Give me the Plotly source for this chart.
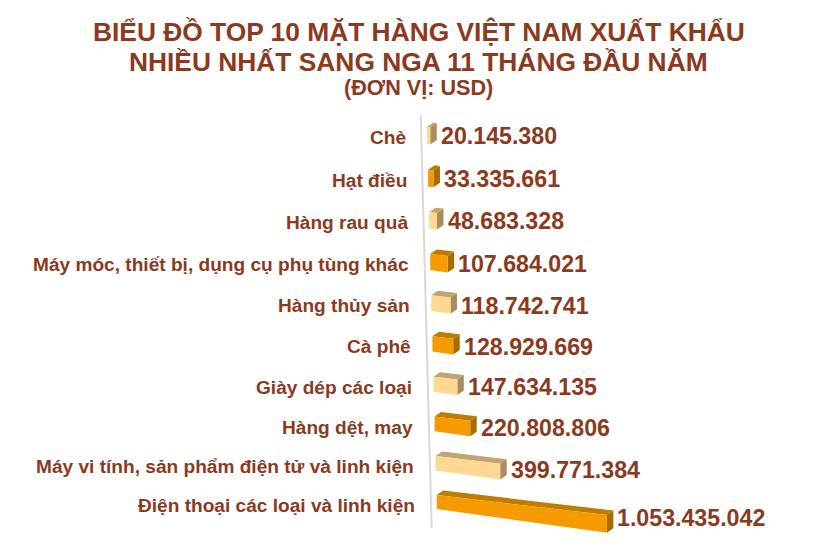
import plotly.graph_objects as go

# Data, top row first
categories = [
    "Chè",
    "Hạt điều",
    "Hàng rau quả",
    "Máy móc, thiết bị, dụng cụ phụ tùng khác",
    "Hàng thủy sản",
    "Cà phê",
    "Giày dép các loại",
    "Hàng dệt, may",
    "Máy vi tính, sản phẩm điện tử và linh kiện",
    "Điện thoại các loại và linh kiện",
]
values = [20145380, 33335661, 48683328, 107684021, 118742741,
          128929669, 147634135, 220808806, 399771384, 1053435042]
title_lines = [
    "BIỂU ĐỒ TOP 10 MẶT HÀNG VIỆT NAM XUẤT KHẨU",
    "NHIỀU NHẤT SANG NGA 11 THÁNG ĐẦU NĂM",
]
unit_label = "(ĐƠN VỊ: USD)"

W, H = 819, 559
PAGE_MARGIN = 8  # the page body pushes the figure in by this much
TEXT = "#8B3A1E"
FONT = "Liberation Sans, Arial, sans-serif"

# (front, top, side) colours, alternating by row
ORANGE = ("#F59B00", "#BF7C00", "#A66C00")
SAND = ("#FFD891", "#C4A36C", "#A98D5F")

PX_PER_USD = 0.1615e-6  # width of a bar per dollar
DEPTH_X, DEPTH_Y = 6.5, -4.5  # offset of the back of a bar


def row_y(r):
    # rows get slightly closer together towards the bottom (perspective)
    return 127 + 43.05 * r - 0.24 * r * r


def project(v, r, dx=0.0, dy=0.0, down=0.0):
    # pseudo 3D: the x axis runs downhill, the value axis leans with the row.
    # down = 0 is the top edge of the front face, 1 the bottom edge
    m = v / 1e6
    x = v + (r * 1.08 + dx) / PX_PER_USD
    thick = 17 - 0.33 * r + 0.0035 * m
    y = row_y(r) + 0.019 * m + down * thick + dy
    return x, y


def polygon(points, color):
    return go.Scatter(
        x=[p[0] for p in points] + [points[0][0]],
        y=[p[1] for p in points] + [points[0][1]],
        mode="lines",
        fill="toself",
        fillcolor=color,
        line=dict(width=0),
        hoverinfo="skip",
        showlegend=False,
    )


fig = go.Figure()

# Axis wall line
ax = [project(0, -0.28, dx=-6), project(0, 9.85, dx=-6)]
fig.add_trace(go.Scatter(
    x=[p[0] for p in ax], y=[p[1] for p in ax],
    mode="lines", line=dict(color="#D9D9D9", width=2),
    hoverinfo="skip", showlegend=False,
))

annotations = []
for r, (cat, v) in enumerate(zip(categories, values)):
    front, top, side = ORANGE if r % 2 else SAND
    if r == 9:
        front, top, side = ORANGE

    fl_t = project(0, r)
    fr_t = project(v, r)
    fr_b = project(v, r, down=1)
    fl_b = project(0, r, down=1)
    bl_t = project(0, r, DEPTH_X, DEPTH_Y)
    br_t = project(v, r, DEPTH_X, DEPTH_Y)
    br_b = project(v, r, DEPTH_X, DEPTH_Y, down=1)

    fig.add_trace(polygon([fl_t, fr_t, br_t, bl_t], top))
    fig.add_trace(polygon([fr_t, br_t, br_b, fr_b], side))
    fig.add_trace(polygon([fl_t, fr_t, fr_b, fl_b], front))

    # Value label, right of the bar
    annotations.append(dict(
        x=project(v, r, DEPTH_X + 2)[0],
        y=row_y(r) + 8.5 + 0.0138 * v / 1e6,
        text=f"{v:,}".replace(",", "."),
        xref="x", yref="y", xanchor="left", yanchor="middle", showarrow=False,
        font=dict(family=FONT, size=23.2, color=TEXT, weight="bold"),
    ))
    # Category label, left of the axis
    annotations.append(dict(
        x=project(0, r, dx=-19 - 0.08 * r)[0],
        y=row_y(r) + 10.5,
        text=cat,
        xref="x", yref="y", xanchor="right", yanchor="middle", showarrow=False,
        font=dict(family=FONT, size=19.1, color=TEXT, weight="bold"),
    ))

for text, y, size in [(title_lines[0], 32, 26.35), (title_lines[1], 62, 26.35), (unit_label, 87, 21.6)]:
    annotations.append(dict(
        x=(418.5 - 427) / PX_PER_USD, y=y, text=text,
        xref="x", yref="y", xanchor="center", yanchor="middle", showarrow=False,
        font=dict(family=FONT, size=size, color=TEXT, weight="bold"),
    ))

fig.update_layout(
    width=W - PAGE_MARGIN,
    height=H - PAGE_MARGIN,
    margin=dict(l=0, r=0, t=0, b=0),
    paper_bgcolor="white",
    plot_bgcolor="white",
    showlegend=False,
    annotations=annotations,
    xaxis=dict(visible=False, range=[(PAGE_MARGIN - 427) / PX_PER_USD, (W - 427) / PX_PER_USD]),
    yaxis=dict(visible=False, range=[H, PAGE_MARGIN]),
)

fig.write_html("out.html")
